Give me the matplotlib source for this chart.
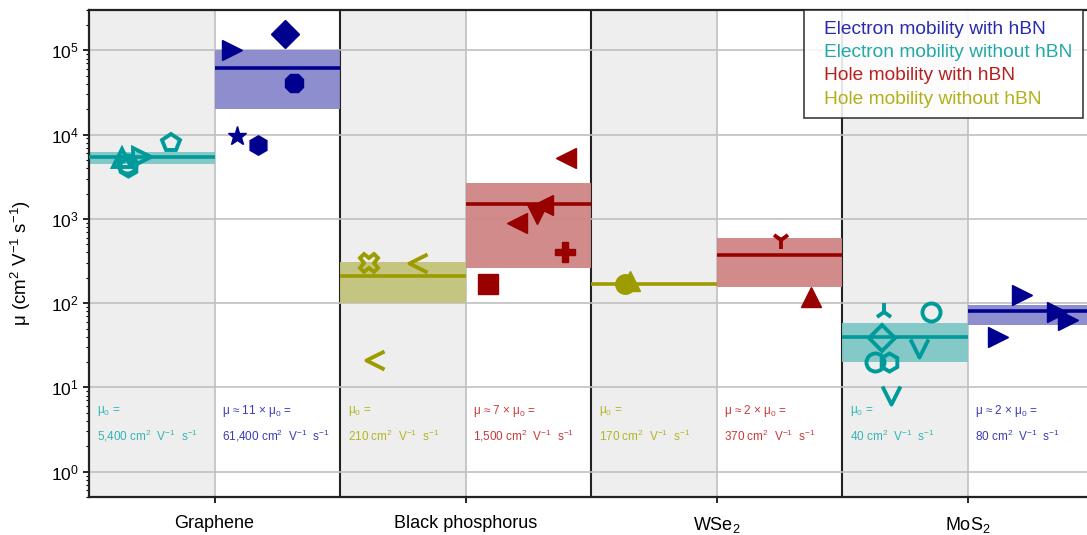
import matplotlib
matplotlib.use("Agg")
import matplotlib.pyplot as plt
from matplotlib.ticker import LogLocator, NullFormatter

plt.rcParams['font.family'] = ['Liberation Sans', 'DejaVu Sans']
plt.rcParams['mathtext.default'] = 'regular'

# materials, each split into "without hBN" (left half) and "with hBN" (right half)
materials = ['Graphene', 'Black phosphorus', 'WSe$_2$', 'MoS$_2$']

# colours
TEAL, NAVY, OLIVE, RED = '#009a9a', '#00008f', '#9c9c00', '#990000'
TEAL_B, NAVY_B, OLIVE_B, RED_B = '#7fc6c6', '#8888cc', '#c3c37c', '#d08585'
TEAL_T, NAVY_T, OLIVE_T, RED_T = '#33b5b5', '#3b3bb8', '#b5b520', '#c83a3a'

# mean mobility per half-column (cm2/Vs) and shaded range
mean_mu = [5400, 61400, 210, 1500, 170, 370, 40, 80]
band_lo = [4500, 20000, 100, 260, 170, 155, 20, 55]
band_hi = [6300, 100000, 310, 2700, 170, 590, 58, 95]
line_col = [TEAL, NAVY, OLIVE, RED, OLIVE, RED, TEAL, NAVY]
band_col = [TEAL_B, NAVY_B, OLIVE_B, RED_B, OLIVE_B, RED_B, TEAL_B, NAVY_B]

# reported values: (x position in half-column units, mobility, marker, filled)
chev_l = [(1, 1), (-1, 0), (1, -1)]
chev_d = [(-1, 1), (0, -1), (1, 1)]
gr_wo = [(0.26, 5250, '^', False), (0.31, 4100, 'h', False), (0.30, 4500, 'o', False),
         (0.42, 5400, '>', False), (0.65, 7900, 'p', False)]
gr_w = [(1.14, 100000, '>', True), (1.56, 155000, 'D', True), (1.63, 40700, '8', True),
        (1.18, 9600, '*', True), (1.35, 7500, 'h', True)]
bp_wo = [(2.23, 300, 'X', False), (2.62, 300, chev_l, False), (2.28, 21, chev_l, False)]
bp_w = [(3.80, 5250, '<', True), (3.41, 900, '<', True), (3.57, 1150, 'v', True),
        (3.62, 1450, '<', True), (3.79, 405, 'P', True), (3.18, 169, 's', True)]
ws_wo = [(4.27, 170, 'o', True), (4.31, 185, '^', True)]
ws_w = [(5.51, 560, '1', False), (5.75, 118, '^', True)]
mo_wo = [(6.33, 79, '2', False), (6.32, 39, 'D', False), (6.71, 79, 'o', False),
         (6.61, 29, chev_d, False), (6.26, 20, 'o', False), (6.37, 20, 'h', False),
         (6.39, 8.2, chev_d, False)]
mo_w = [(7.43, 125, '>', True), (7.71, 79, '>', True), (7.80, 63, '>', True),
        (7.24, 40, '>', True)]
point_sets = [(gr_wo, TEAL), (gr_w, NAVY), (bp_wo, OLIVE), (bp_w, RED),
              (ws_wo, OLIVE), (ws_w, RED), (mo_wo, TEAL), (mo_w, NAVY)]

# annotation text per half-column
note_top = [r'$\mu_0$ =', r'$\mu$ ≈ 11 × $\mu_0$ =', r'$\mu_0$ =', r'$\mu$ ≈ 7 × $\mu_0$ =',
            r'$\mu_0$ =', r'$\mu$ ≈ 2 × $\mu_0$ =', r'$\mu_0$ =', r'$\mu$ ≈ 2 × $\mu_0$ =']
note_val = ['5,400', '61,400', '210', '1,500', '170', '370', '40', '80']
note_col = [TEAL_T, NAVY_T, OLIVE_T, RED_T, OLIVE_T, RED_T, TEAL_T, NAVY_T]

fig = plt.figure(figsize=(10.87, 5.35), dpi=100)
ax = fig.add_axes([0.0819, 0.071, 0.9181, 0.910])
ax.set_yscale('log')
xmax = 7.95
ax.set_xlim(0, xmax)

# grey background for the "without hBN" halves
for i in range(0, 8, 2):
    ax.axvspan(i, i + 1, color='#eeeeee', zorder=0, lw=0)

ax.grid(True, axis='y', which='major', color='#c0c0c0', lw=1.2, zorder=1)
for i in range(1, 8, 2):
    ax.axvline(i, color='#c0c0c0', lw=1.2, zorder=1)
for i in (2, 4, 6):
    ax.axvline(i, color='#222222', lw=1.5, zorder=1)

for i in range(8):
    x0, x1 = i, min(i + 1, xmax)
    if band_hi[i] > band_lo[i]:
        ax.fill_between([x0, x1], band_lo[i], band_hi[i], color=band_col[i],
                        alpha=0.95, lw=0, zorder=2)
    ax.plot([x0, x1], [mean_mu[i]] * 2, color=line_col[i], lw=2.6, zorder=3,
            solid_capstyle='butt')

for pts, col in point_sets:
    for x, y, m, filled in pts:
        if filled:
            ax.plot(x, y, marker=m, ms=14, color=col, mec=col, ls='none', zorder=4)
        else:
            ax.plot(x, y, marker=m, ms=13, mfc='none', mec=col, mew=2.8,
                    ls='none', zorder=4)

for i in range(8):
    ax.text(i + 0.06, 5.2, note_top[i], color=note_col[i], fontsize=8.5,
            va='center', ha='left', zorder=5)
    ax.text(i + 0.06, 2.65, note_val[i] + r' cm$^2$  V$^{-1}$  s$^{-1}$',
            color=note_col[i], fontsize=8.5, va='center', ha='left', zorder=5)

ax.set_xticks([1, 3, 5, 7])
ax.set_xticklabels(materials, fontsize=13)
ax.tick_params(axis='x', length=4, width=1.2, pad=9)
ax.set_yticks([1, 10, 100, 1e3, 1e4, 1e5])
ax.yaxis.set_minor_locator(LogLocator(base=10, subs=range(2, 10), numticks=20))
ax.yaxis.set_minor_formatter(NullFormatter())
ax.set_ylim(0.5, 3e5)
ax.tick_params(axis='y', which='major', labelsize=12.5, length=4, width=1.2)
ax.tick_params(axis='y', which='minor', length=2.5, width=0.8)
ax.set_ylabel(r'$\mu$ (cm$^2$ V$^{-1}$ s$^{-1}$)', fontsize=13.5, labelpad=6)
ax.yaxis.set_label_coords(-0.056, 0.48)

for side in ('left', 'bottom', 'top'):
    ax.spines[side].set_linewidth(1.6)
    ax.spines[side].set_color('#222222')
ax.spines['right'].set_visible(False)

labels = ['Electron mobility with hBN', 'Electron mobility without hBN',
          'Hole mobility with hBN', 'Hole mobility without hBN']
label_cols = ['#2a2ab0', '#22a8a8', '#b82020', '#b0b018']
handles = [plt.Line2D([], [], ls='none') for _ in labels]
leg = ax.legend(handles, labels, loc='upper left', bbox_to_anchor=(0.7165, 1.0),
                borderaxespad=0, handlelength=0.5, handletextpad=0, fontsize=13.8,
                labelcolor=label_cols, fancybox=False, edgecolor='#222222',
                framealpha=0.88, labelspacing=0.3, borderpad=0.55)
leg.get_frame().set_linewidth(1.2)
leg.set_zorder(6)

fig.savefig('out.png', dpi=100)
